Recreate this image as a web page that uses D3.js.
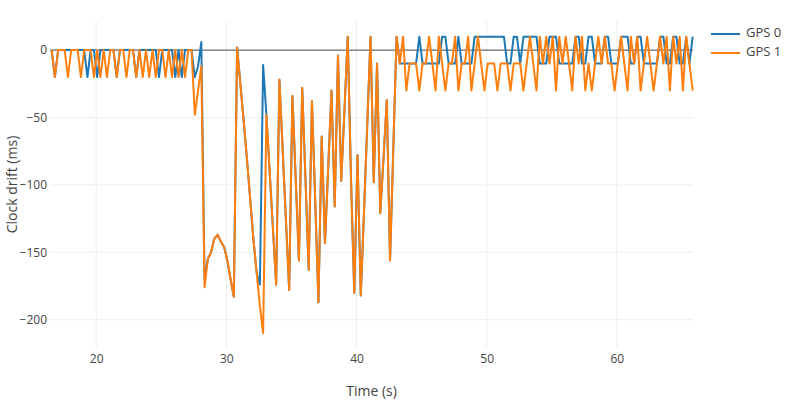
<!DOCTYPE html>
<html>
<head>
<meta charset="utf-8">
<script src="https://cdn.jsdelivr.net/npm/d3@7"></script>
<style>
  html, body { margin: 0; padding: 0; background: #fff; }
  svg { display: block; font-family: "Open Sans", verdana, arial, sans-serif; }
</style>
</head>
<body>
<div id="chart"></div>
<script>
// sample clock of the logger (s)
const TIME_START = 16.575;
const TIME_STEP = 0.25;

const SERIES_NAMES = ['GPS 0', 'GPS 1'];
const X_TICKS = [20, 30, 40, 50, 60];
const Y_TICKS = [0, -50, -100, -150, -200];
const X_RANGE = [16.45, 65.85];
const Y_RANGE = [-221, 21.6];

// clock drift (ms), one value per sample
const gps0Drift = [
  0, -20, 0, 0, 0, 0, 0, 0,
  0, 0, 0, -20, 0, 0, -20, 0, 0, 0,
  0, 0, -20, 0, 0, 0, 0, 0, -20, 0,
  0, 0, 0, 0, 0, -20, 0, 0, 0, 0,
  -20, 0, -20, 0, 0, 0, -20, -12, 6, -170,
  -155, -150, -140, -137, -142, -146, -156, -170, -183, 2,
  -25, -52, -80, -110, -140, -165, -174, -11, -48, -90,
  -132, -174, -22, -74, -126, -178, -34, -95, -156, -28,
  -95, -163, -38, -112, -187, -64, -143, -87, -30, -116,
  -4, -97, -44, 10, -95, -180, -78, -182, -120, -55,
  10, -98, -10, -121, -80, -37, -156, -73, 10, -10,
  -10, -10, -10, -10, -10, 10, -10, -10, -10, -10,
  -10, -10, 10, 10, -10, -10, -10, 10, -10, -10,
  -10, -10, 10, 10, 10, 10, 10, 10, 10, 10,
  10, 10, -10, -10, 10, 10, -10, 10, 10, 10,
  10, 10, -10, -10, -10, 10, 10, 10, -10, -10,
  -10, -10, -10, 10, 10, -10, -10, 10, 10, -10,
  -10, -10, 10, 10, -10, -10, -10, 10, 10, 10,
  -10, -10, 10, 10, -10, -10, -10, -10, -10, 10,
  10, -10, -10, 10, 10, -10, -10, 10, -10, 10
];

const gps1Drift = [
  0, -20, 0, 0, 0, -20, 0, 0,
  0, -20, 0, 0, 0, -20, 0, -20, 0, -20,
  0, 0, -20, 0, 0, -20, 0, 0, -20, 0,
  -20, 0, -20, 0, -20, 0, 0, -20, 0, -20,
  0, -20, 0, -20, 0, 0, -48, -30, -12, -176,
  -155, -150, -140, -137, -142, -146, -156, -170, -183, 2,
  -25, -52, -80, -110, -140, -165, -190, -210, -48, -90,
  -132, -174, -22, -74, -126, -178, -34, -95, -156, -28,
  -95, -163, -38, -112, -187, -64, -143, -87, -30, -116,
  -4, -97, -44, 10, -95, -180, -78, -182, -120, -55,
  10, -98, -10, -121, -80, -37, -156, -73, 10, -10,
  10, -30, -10, -10, -10, -30, -10, -10, 10, -10,
  -30, 10, -10, -30, -10, -10, 10, -30, -10, -10,
  10, -30, -10, 10, -10, -30, -10, -10, -10, -30,
  -10, -10, -10, -30, -10, -10, -10, -30, -10, 10,
  -10, -30, 10, -10, 10, -10, 10, -30, 10, -10,
  10, -10, -30, 10, -10, 10, -30, -10, -30, -10,
  10, -10, 10, -10, -10, -30, -10, 10, -10, -30,
  10, -10, 10, -30, -10, 10, -10, -30, -10, 10,
  -10, 10, -30, 10, -10, 10, -30, 10, -10, -30
];

const WIDTH = 800;
const HEIGHT = 400;
const MARGIN = { top: 21, right: 107, bottom: 52, left: 50 };
const COLORS = { 'GPS 0': '#1f77b4', 'GPS 1': '#ff7f0e' };

const innerW = WIDTH - MARGIN.left - MARGIN.right;
const innerH = HEIGHT - MARGIN.top - MARGIN.bottom;

const series = [gps0Drift, gps1Drift].map((values, k) => ({
  name: SERIES_NAMES[k],
  points: values.map((v, i) => ({ t: TIME_START + i * TIME_STEP, v }))
}));

const svg = d3.select('#chart').append('svg')
  .attr('width', WIDTH)
  .attr('height', HEIGHT);

const g = svg.append('g').attr('transform', `translate(${MARGIN.left},${MARGIN.top})`);

const x = d3.scaleLinear().domain(X_RANGE).range([0, innerW]);
const y = d3.scaleLinear().domain(Y_RANGE).range([innerH, 0]);

// grid
g.append('g')
  .selectAll('line')
  .data(X_TICKS)
  .join('line')
  .attr('x1', (d) => x(d)).attr('x2', (d) => x(d))
  .attr('y1', 0).attr('y2', innerH)
  .attr('stroke', '#eee');
g.append('g')
  .selectAll('line')
  .data(Y_TICKS.filter((d) => d !== 0))
  .join('line')
  .attr('x1', 0).attr('x2', innerW)
  .attr('y1', (d) => y(d)).attr('y2', (d) => y(d))
  .attr('stroke', '#eee');

// zero line
g.append('line')
  .attr('x1', 0).attr('x2', innerW)
  .attr('y1', y(0)).attr('y2', y(0))
  .attr('stroke', '#444')
  .attr('stroke-width', 1);

// axes
const xAxisG = g.append('g')
  .attr('transform', `translate(0,${innerH})`)
  .call(d3.axisBottom(x).tickValues(X_TICKS).tickSize(0).tickPadding(6));
const yAxisG = g.append('g')
  .call(d3.axisLeft(y).tickValues(Y_TICKS).tickSize(0).tickPadding(3));
[xAxisG, yAxisG].forEach((axis) => {
  axis.select('.domain').remove();
  axis.selectAll('text')
    .style('fill', '#444')
    .style('font-size', '12px')
    .style('font-family', '"Open Sans", verdana, arial, sans-serif');
});

// lines
const line = d3.line()
  .x((d) => x(d.t))
  .y((d) => y(d.v));

g.append('g')
  .selectAll('path')
  .data(series)
  .join('path')
  .attr('d', (d) => line(d.points))
  .attr('fill', 'none')
  .attr('stroke', (d) => COLORS[d.name])
  .attr('stroke-width', 2)
  .attr('stroke-linejoin', 'round');

// axis titles
svg.append('text')
  .attr('x', MARGIN.left + innerW / 2)
  .attr('y', 392)
  .attr('text-anchor', 'middle')
  .attr('dominant-baseline', 'middle')
  .style('fill', '#444')
  .style('font-size', '14px')
  .text('Time (s)');

svg.append('text')
  .attr('transform', `translate(13,${MARGIN.top + innerH / 2}) rotate(-90)`)
  .attr('text-anchor', 'middle')
  .attr('dominant-baseline', 'middle')
  .style('fill', '#444')
  .style('font-size', '14px')
  .text('Clock drift (ms)');

// legend
const legend = svg.append('g').attr('transform', 'translate(711,34)');
const items = legend.selectAll('g')
  .data(SERIES_NAMES)
  .join('g')
  .attr('transform', (d, i) => `translate(0,${i * 19})`);
items.append('line')
  .attr('x1', 0).attr('x2', 29)
  .attr('stroke', (d) => COLORS[d])
  .attr('stroke-width', 2);
items.append('text')
  .attr('x', 35)
  .attr('dominant-baseline', 'middle')
  .style('fill', '#444')
  .style('font-size', '13px')
  .text((d) => d);
</script>
</body>
</html>
